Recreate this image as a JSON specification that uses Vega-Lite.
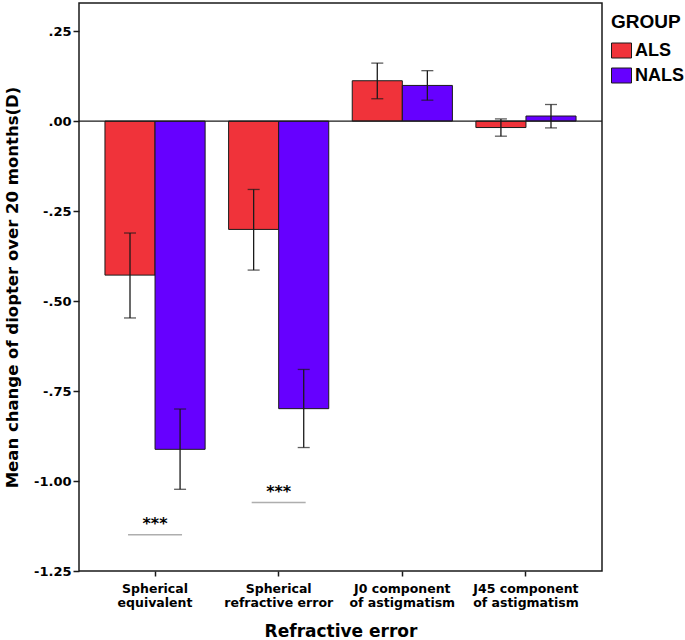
{
  "$schema": "https://vega.github.io/schema/vega-lite/v6.json",
  "autosize": "none",
  "padding": {"left": 79, "top": 3, "right": 83, "bottom": 69},
  "width": 523,
  "height": 568,
  "background": "white",
  "config": {
    "view": {"stroke": "#1a1a1a", "strokeWidth": 1.5},
    "axis": {"grid": false, "domain": false, "tickColor": "#1a1a1a", "tickWidth": 1.5, "labelColor": "black", "titleColor": "black", "labelFont": "DejaVu Sans", "labelFontWeight": "bold", "titleFont": "DejaVu Sans", "titleFontWeight": "bold"}
  },
  "datasets": {
    "bars": [
      {"measure": "Spherical equivalent", "group": "ALS", "mean": -0.428, "lo": -0.547, "hi": -0.311},
      {"measure": "Spherical equivalent", "group": "NALS", "mean": -0.912, "lo": -1.023, "hi": -0.800},
      {"measure": "Spherical refractive error", "group": "ALS", "mean": -0.301, "lo": -0.414, "hi": -0.190},
      {"measure": "Spherical refractive error", "group": "NALS", "mean": -0.799, "lo": -0.907, "hi": -0.690},
      {"measure": "J0 component of astigmatism", "group": "ALS", "mean": 0.112, "lo": 0.062, "hi": 0.161},
      {"measure": "J0 component of astigmatism", "group": "NALS", "mean": 0.099, "lo": 0.058, "hi": 0.140},
      {"measure": "J45 component of astigmatism", "group": "ALS", "mean": -0.018, "lo": -0.042, "hi": 0.006},
      {"measure": "J45 component of astigmatism", "group": "NALS", "mean": 0.014, "lo": -0.019, "hi": 0.046}
    ],
    "notes": [
      {"measure": "Spherical equivalent", "lineY": -1.149, "textY": -1.119, "label": "***"},
      {"measure": "Spherical refractive error", "lineY": -1.060, "textY": -1.030, "label": "***"}
    ],
    "zero": [{"z": 0}]
  },
  "layer": [
    {
      "data": {"name": "bars"},
      "mark": {"type": "bar", "stroke": "#1a1a1a", "strokeWidth": 1},
      "encoding": {
        "x": {
          "field": "measure", "type": "nominal",
          "sort": ["Spherical equivalent", "Spherical refractive error", "J0 component of astigmatism", "J45 component of astigmatism"],
          "scale": {"domain": ["Spherical equivalent", "Spherical refractive error", "J0 component of astigmatism", "J45 component of astigmatism"], "paddingInner": 0.19, "paddingOuter": 0.21},
          "axis": {
            "title": "Refractive error", "titleFontSize": 17, "titlePadding": 15,
            "labelFontSize": 12.5, "labelAngle": 0, "labelPadding": 6, "labelLineHeight": 14, "tickSize": 5,
            "labelExpr": "datum.label == 'Spherical equivalent' ? ['Spherical', 'equivalent'] : datum.label == 'Spherical refractive error' ? ['Spherical', 'refractive error'] : datum.label == 'J0 component of astigmatism' ? ['J0 component', 'of astigmatism'] : ['J45 component', 'of astigmatism']"
          }
        },
        "xOffset": {"field": "group", "type": "nominal", "scale": {"domain": ["ALS", "NALS"], "paddingInner": 0, "paddingOuter": 0}},
        "y": {
          "field": "mean", "type": "quantitative",
          "scale": {"domain": [-1.25, 0.328], "nice": false, "zero": false},
          "axis": {
            "title": "Mean change of diopter over 20 months(D)", "titleFontSize": 16.5, "titlePadding": 13,
            "values": [-1.25, -1, -0.75, -0.5, -0.25, 0, 0.25], "labelFontSize": 13, "tickSize": 6, "labelPadding": 2,
            "labelExpr": "replace(replace(format(datum.value, '.2f'), '\u2212', '-'), '0.', '.')"
          }
        },
        "color": {
          "field": "group", "type": "nominal",
          "scale": {"domain": ["ALS", "NALS"], "range": ["#F0333A", "#6600FF"]},
          "legend": {
            "title": "GROUP", "orient": "none", "legendX": 532, "legendY": 10,
            "titleFont": "Liberation Sans", "titleFontSize": 19, "titleFontWeight": "bold", "titleColor": "black", "titlePadding": 8,
            "labelFont": "Liberation Sans", "labelFontSize": 18, "labelFontWeight": "bold", "labelColor": "black", "labelOffset": 3,
            "symbolType": "M-1,-0.75H1V0.75H-1Z", "symbolSize": 400, "symbolStrokeColor": "#1a1a1a", "symbolStrokeWidth": 1, "rowPadding": 5
          }
        }
      }
    },
    {
      "data": {"name": "zero"},
      "mark": {"type": "rule", "color": "#1a1a1a", "strokeWidth": 1.2},
      "encoding": {"y": {"field": "z", "type": "quantitative"}}
    },
    {
      "data": {"name": "bars"},
      "mark": {"type": "rule", "color": "#1a1a1a", "strokeWidth": 1.3},
      "encoding": {
        "x": {"field": "measure", "type": "nominal", "sort": ["Spherical equivalent", "Spherical refractive error", "J0 component of astigmatism", "J45 component of astigmatism"]},
        "xOffset": {"field": "group", "type": "nominal"},
        "y": {"field": "lo", "type": "quantitative"},
        "y2": {"field": "hi"}
      }
    },
    {
      "data": {"name": "bars"},
      "mark": {"type": "tick", "orient": "horizontal", "color": "#1a1a1a", "size": 12, "thickness": 1.3},
      "encoding": {
        "x": {"field": "measure", "type": "nominal", "sort": ["Spherical equivalent", "Spherical refractive error", "J0 component of astigmatism", "J45 component of astigmatism"]},
        "xOffset": {"field": "group", "type": "nominal"},
        "y": {"field": "lo", "type": "quantitative"}
      }
    },
    {
      "data": {"name": "bars"},
      "mark": {"type": "tick", "orient": "horizontal", "color": "#1a1a1a", "size": 12, "thickness": 1.3},
      "encoding": {
        "x": {"field": "measure", "type": "nominal", "sort": ["Spherical equivalent", "Spherical refractive error", "J0 component of astigmatism", "J45 component of astigmatism"]},
        "xOffset": {"field": "group", "type": "nominal"},
        "y": {"field": "hi", "type": "quantitative"}
      }
    },
    {
      "data": {"name": "notes"},
      "mark": {"type": "tick", "orient": "horizontal", "color": "#8c8c8c", "size": 54, "thickness": 1.5},
      "encoding": {
        "x": {"field": "measure", "type": "nominal", "sort": ["Spherical equivalent", "Spherical refractive error", "J0 component of astigmatism", "J45 component of astigmatism"]},
        "y": {"field": "lineY", "type": "quantitative"}
      }
    },
    {
      "data": {"name": "notes"},
      "mark": {"type": "text", "font": "DejaVu Sans", "fontWeight": "bold", "fontSize": 16, "baseline": "middle", "align": "center", "color": "black"},
      "encoding": {
        "x": {"field": "measure", "type": "nominal", "sort": ["Spherical equivalent", "Spherical refractive error", "J0 component of astigmatism", "J45 component of astigmatism"]},
        "y": {"field": "textY", "type": "quantitative"},
        "text": {"field": "label"}
      }
    }
  ]
}
